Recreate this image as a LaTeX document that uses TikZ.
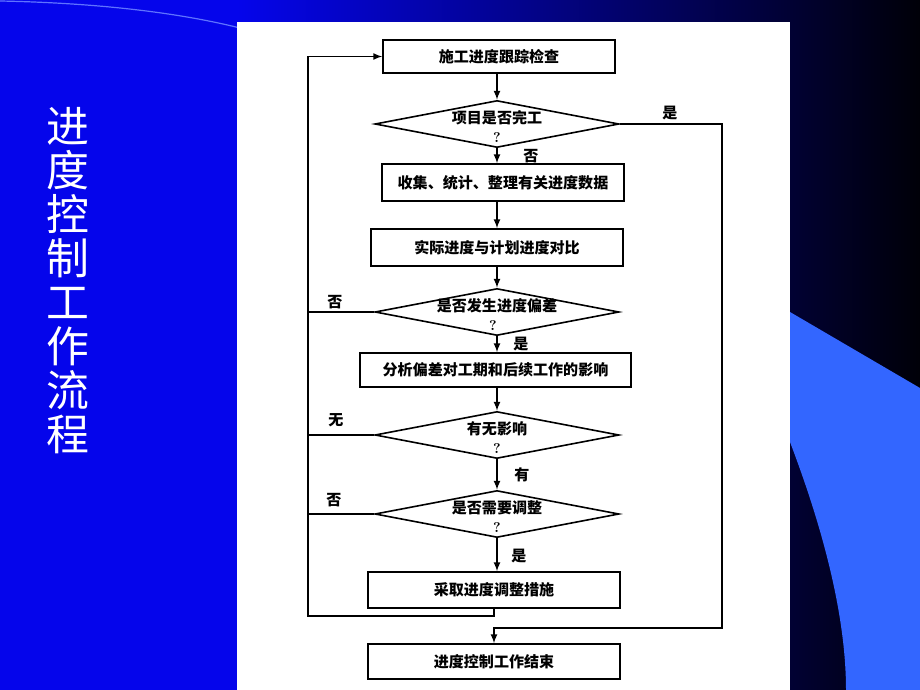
\documentclass[tikz,border=0pt]{standalone}
\usepackage{fontspec}
\newfontfamily\cjk{Noto Sans CJK SC}
\usepackage{tikz}
\usetikzlibrary{shapes.geometric}

\definecolor{slideblue}{RGB}{5,5,235}
\definecolor{slidenavy}{RGB}{0,0,8}
\definecolor{paleblue}{RGB}{51,102,255}
\definecolor{arcblue}{RGB}{95,115,255}

\begin{document}
\begin{tikzpicture}[x=0.025cm,y=-0.025cm,>=latex,
	box/.style={draw,line width=0.04cm,fill=white,inner sep=0pt,font=\cjk\bfseries\fontsize{10.7}{12}\selectfont},
	dia/.style={diamond,draw,line width=0.04cm,inner sep=0pt,minimum width=6.1cm,minimum height=1.175cm},
	dtxt/.style={yshift=0.15cm,inner sep=0pt,font=\cjk\bfseries\fontsize{10.7}{12}\selectfont},
	qmark/.style={yshift=-0.35cm,inner sep=0pt,font=\rmfamily\bfseries\fontsize{10}{11}\selectfont},
	lbl/.style={inner sep=0pt,font=\cjk\bfseries\fontsize{10.7}{12}\selectfont},
	flow/.style={line width=0.04cm}]
		\useasboundingbox (0,0) rectangle (920,690);
		%slide background
		\fill[slideblue] (0,0) rectangle (920,690);
		\shade[left color=slideblue,right color=slidenavy] (237,0) rectangle (920,690);
		\draw[arcblue,line width=0.03cm] (0,1) .. controls (100,3) and (180,13) .. (240,28);
		\fill[paleblue] (790,312) -- (920,388) -- (920,690) -- (846,690) .. controls (846,600) and (812,500) .. (790,442) -- cycle;
		\fill[white] (237,22) rectangle (790,690);
		\node[text=white,inner sep=0pt,align=center,font=\cjk\fontsize{30.5}{31.3}\selectfont] (title) at (68,281) {进\\度\\控\\制\\工\\作\\流\\程};
		
		%boxes and decisions
		\node[box,minimum width=5.8cm,minimum height=0.825cm] (b1) at (499,56.5) {施工进度跟踪检查};
		\node[dia] (d1) at (497,124) {};
		\node[dtxt] (d1t) at (d1) {项目是否完工};
		\node[qmark] (d1q) at (d1) {?};
		\node[box,minimum width=6.05cm,minimum height=0.925cm] (b2) at (503,182.5) {收集、统计、整理有关进度数据};
		\node[box,minimum width=6.3cm,minimum height=0.925cm] (b3) at (497,247.5) {实际进度与计划进度对比};
		\node[dia] (d2) at (497,312) {};
		\node[dtxt] (d2t) at (d2) {是否发生进度偏差};
		\node[qmark] (d2q) at ([xshift=-0.1cm]d2) {?};
		\node[box,minimum width=6.775cm,minimum height=0.85cm] (b4) at (495.5,370) {分析偏差对工期和后续工作的影响};
		\node[dia] (d3) at (497,435) {};
		\node[dtxt] (d3t) at (d3) {有无影响};
		\node[qmark] (d3q) at (d3) {?};
		\node[dia] (d4) at (497,514) {};
		\node[dtxt] (d4t) at (d4) {是否需要调整};
		\node[qmark] (d4q) at (d4) {?};
		\node[box,minimum width=6.3cm,minimum height=0.9cm] (b5) at (494,590) {采取进度调整措施};
		\node[box,minimum width=6.3cm,minimum height=0.875cm] (b6) at (494,661.5) {进度控制工作结束};
		\coordinate (lp) at (308,616);
		\coordinate (rt) at (722,628);
		
		%main flow
		\draw[flow,->] (b1.south -| d1) -- (d1.north);
		\draw[flow,->] (d1.south) -- (d1.south |- b2.north);
		\draw[flow,->] (b2.south -| d2) -- (b3.north -| d2);
		\draw[flow,->] (b3.south -| d2) -- (d2.north);
		\draw[flow,->] (d2.south) -- (d2.south |- b4.north);
		\draw[flow,->] (b4.south -| d3) -- (d3.north);
		\draw[flow,->] (d3.south) -- (d4.north);
		\draw[flow,->] (d4.south) -- (d4.south |- b5.north);
		%feedback loops
		\draw[flow,->] (b5.south) |- (lp) |- (b1.west);
		\draw[flow] (d2.west) -- (d2.west -| lp);
		\draw[flow] (d3.west) -- (d3.west -| lp);
		\draw[flow] (d4.west) -- (d4.west -| lp);
		\draw[flow,->] (d1.east) -| (rt) -| (b6.north);
		
		%branch labels
		\node[lbl] (l1) at (670,113) {是};
		\node[lbl] (l2) at (531,156) {否};
		\node[lbl] (l3) at (335,302) {否};
		\node[lbl] (l4) at (521,344) {是};
		\node[lbl] (l5) at (336,420) {无};
		\node[lbl] (l6) at (522,475) {有};
		\node[lbl] (l7) at (334,500) {否};
		\node[lbl] (l8) at (519,556) {是};
		
\end{tikzpicture}
\end{document}
